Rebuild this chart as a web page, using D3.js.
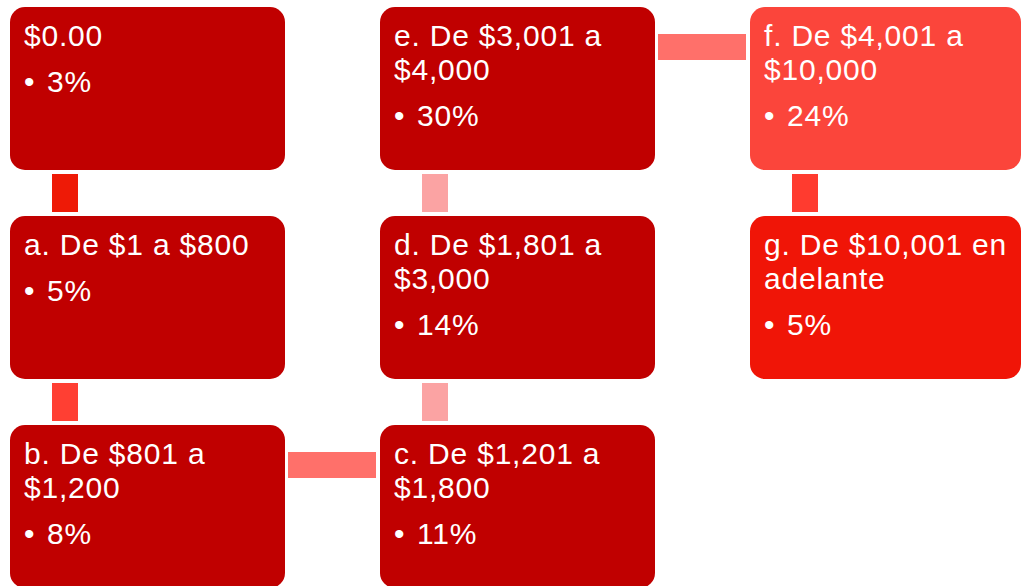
<!DOCTYPE html>
<html>
<head>
<meta charset="utf-8">
<script src="https://d3js.org/d3.v7.min.js"></script>
<style>
  body { margin: 0; background: #fff; }
  svg { display: block; }
  text { font-family: "Liberation Sans", Arial, sans-serif; fill: #fff; }
</style>
</head>
<body>
<div id="chart"></div>
<script>
// steps of the process, in order
var labels = ["$0.00", "a. De $1 a $800", "b. De $801 a $1,200", "c. De $1,201 a $1,800",
              "d. De $1,801 a $3,000", "e. De $3,001 a $4,000", "f. De $4,001 a $10,000",
              "g. De $10,001 en adelante"];
var percents = [3, 5, 8, 11, 14, 30, 24, 5];

// snake layout: column and row of each step
var cols = [0, 0, 0, 1, 1, 1, 2, 2];
var rows = [0, 1, 2, 2, 1, 0, 0, 1];

var width = 1021, height = 586;
var boxW = 275, boxH = 163;
var fontSize = 30;

var boxColors = ["#c00000", "#c00000", "#c00000", "#c00000", "#c00000", "#c00000", "#fb453b", "#f01507"];
var linkColors = ["#ee1a06", "#ff3f33", "#ff706a", "#fba3a3", "#fba3a3", "#ff706a", "#ff3b2f"];

var x = d3.scaleLinear().domain([0, 2]).range([10, 750]);
var y = d3.scaleLinear().domain([0, 2]).range([7, 425]);

var svg = d3.select("#chart")
    .append("svg")
    .attr("width", width)
    .attr("height", height);

var steps = labels.map(function(d, i) {
    return { label: d, pct: percents[i], col: cols[i], row: rows[i] };
});

// connectors between consecutive steps
var links = d3.pairs(steps);
svg.selectAll(".link")
    .data(links)
    .enter()
    .append("rect")
    .attr("class", "link")
    .attr("fill", function(d, i) { return linkColors[i]; })
    .each(function(d) {
        var a = d[0], b = d[1];
        var r = d3.select(this);
        if (a.col === b.col) {
            var top = Math.min(y(a.row), y(b.row)) + boxH + 4;
            r.attr("x", x(a.col) + 42).attr("width", 26)
             .attr("y", top).attr("height", Math.abs(y(b.row) - y(a.row)) - boxH - 8);
        } else {
            var left = Math.min(x(a.col), x(b.col)) + boxW + 3;
            r.attr("x", left).attr("width", Math.abs(x(b.col) - x(a.col)) - boxW - 7)
             .attr("y", y(a.row) + 27).attr("height", 26);
        }
    });

var box = svg.selectAll(".step")
    .data(steps)
    .enter()
    .append("g")
    .attr("class", "step")
    .attr("transform", function(d) {
        return "translate(" + x(d.col) + "," + y(d.row) + ")";
    });

// last column is squeezed by the picture edge
box.append("rect")
    .attr("width", function(d) { return Math.min(boxW, width - x(d.col)); })
    .attr("height", boxH)
    .attr("rx", 15)
    .attr("fill", function(d, i) { return boxColors[i]; });

box.each(function(d) {
    var g = d3.select(this);
    var t = g.append("text")
        .attr("x", 14)
        .attr("y", 39)
        .style("font-size", fontSize + "px")
        .style("letter-spacing", "0.8px");
    // wrap title to box width
    var words = d.label.split(" ");
    var line = [], lines = 0;
    var tspan = t.append("tspan").attr("x", 14).attr("dy", 0);
    words.forEach(function(w) {
        line.push(w);
        tspan.text(line.join(" "));
        if (tspan.node().getComputedTextLength() > 250 && line.length > 1) {
            line.pop();
            tspan.text(line.join(" "));
            line = [w];
            lines++;
            tspan = t.append("tspan").attr("x", 14).attr("dy", 34).text(w);
        }
    });
    var by = 39 + lines * 34 + 46;
    g.append("text")
        .attr("x", 14)
        .attr("y", by)
        .style("font-size", fontSize + "px")
        .text("\u2022");
    g.append("text")
        .attr("x", 37)
        .attr("y", by)
        .style("font-size", fontSize + "px")
        .style("letter-spacing", "0.8px")
        .text(d.pct + "%");
});
</script>
</body>
</html>
